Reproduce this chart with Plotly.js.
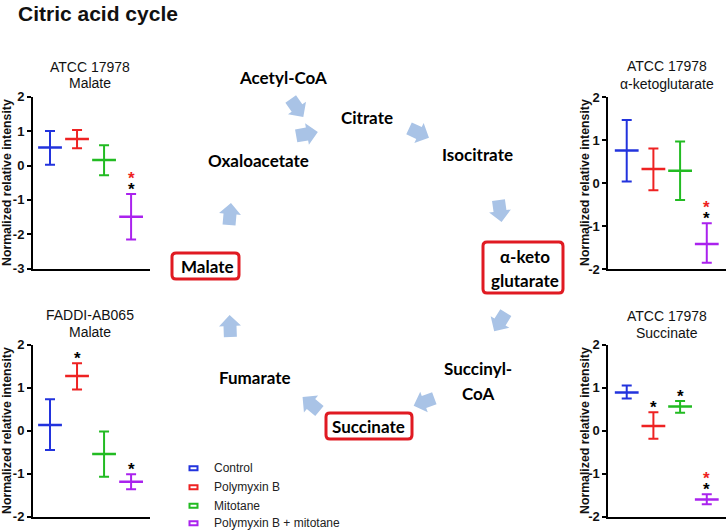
<!DOCTYPE html>
<html>
<head>
<meta charset="utf-8">
<script src="https://cdn.plot.ly/plotly-3.0.1.min.js"></script>
<style>html,body{margin:0;padding:0;background:#fff;}#chart{width:728px;height:532px;}</style>
</head>
<body>
<div id="chart"></div>
<script>
// ---------------- DATA ----------------
const treatments = ['Control', 'Polymyxin B', 'Mitotane', 'Polymyxin B + mitotane'];
const treatmentColors = ['#2233dd', '#ee2222', '#22bb22', '#aa22ee'];

// ATCC 17978 - Malate (mean, range)
const atccMalateMean = [0.52, 0.77, 0.16, -1.49];
const atccMalateHi   = [1.00, 1.03, 0.59, -0.83];
const atccMalateLo   = [0.02, 0.50, -0.28, -2.15];
// FADDI-AB065 - Malate
const faddiMalateMean = [0.13, 1.27, -0.54, -1.19];
const faddiMalateHi   = [0.73, 1.57, -0.02, -1.01];
const faddiMalateLo   = [-0.45, 0.96, -1.07, -1.36];
// ATCC 17978 - alpha-ketoglutarate
const atccAkgMean = [0.76, 0.33, 0.29, -1.41];
const atccAkgHi   = [1.47, 0.81, 0.97, -0.93];
const atccAkgLo   = [0.04, -0.16, -0.39, -1.85];
// ATCC 17978 - Succinate
const atccSuccMean = [0.89, 0.11, 0.56, -1.60];
const atccSuccHi   = [1.05, 0.43, 0.69, -1.48];
const atccSuccLo   = [0.75, -0.19, 0.42, -1.71];

// significance markers (black * and red *)
const atccMalateSigBlack = [0, 0, 0, 1];
const atccMalateSigRed   = [0, 0, 0, 1];
const faddiMalateSigBlack = [0, 1, 0, 1];
const faddiMalateSigRed   = [0, 0, 0, 0];
const atccAkgSigBlack = [0, 0, 0, 1];
const atccAkgSigRed   = [0, 0, 0, 1];
const atccSuccSigBlack = [0, 1, 1, 1];
const atccSuccSigRed   = [0, 0, 0, 1];

const yTickValsTL = [-3, -2, -1, 0, 1, 2];
const yTickVals = [-2, -1, 0, 1, 2];

// ---------------- LAYOUT HELPERS ----------------
const W = 728, H = 532;
const PX = p => p / W;
const PY = p => 1 - p / H;
const FONT = 'Liberation Sans, Arial, sans-serif';
const DIAG_FONT = 'Lato, Carlito, Calibri, sans-serif';

const panels = [
  {mean: atccMalateMean, hi: atccMalateHi, lo: atccMalateLo, sb: atccMalateSigBlack, sr: atccMalateSigRed,
   t1: 'ATCC 17978', t2: 'Malate', xd: [33, 150], yd: [96.7, 268.7], yr: [-3, 2], ticks: yTickValsTL, xr: [-0.63, 3.70], cx: 90, ty: [67, 83], yt: [7, 183]},
  {mean: faddiMalateMean, hi: faddiMalateHi, lo: faddiMalateLo, sb: faddiMalateSigBlack, sr: faddiMalateSigRed,
   t1: 'FADDI-AB065', t2: 'Malate', xd: [33, 150], yd: [344.7, 516.7], yr: [-2, 2], ticks: yTickVals, xr: [-0.63, 3.70], cx: 90, ty: [315, 332], yt: [7, 431]},
  {mean: atccAkgMean, hi: atccAkgHi, lo: atccAkgLo, sb: atccAkgSigBlack, sr: atccAkgSigRed,
   t1: 'ATCC 17978', t2: 'α-ketoglutarate', xd: [608.3, 726], yd: [97.3, 269.3], yr: [-2, 2], ticks: yTickVals, xr: [-0.69, 3.72], cx: 667, ty: [66, 84], yt: [585, 183]},
  {mean: atccSuccMean, hi: atccSuccHi, lo: atccSuccLo, sb: atccSuccSigBlack, sr: atccSuccSigRed,
   t1: 'ATCC 17978', t2: 'Succinate', xd: [608.3, 726], yd: [344.7, 516.7], yr: [-2, 2], ticks: yTickVals, xr: [-0.69, 3.72], cx: 667, ty: [316, 333], yt: [585, 431]}
];

const traces = [];
const layout = {
  width: W, height: H,
  margin: {l: 0, r: 0, t: 0, b: 0},
  paper_bgcolor: '#ffffff', plot_bgcolor: 'rgba(0,0,0,0)',
  font: {family: FONT, color: '#111'},
  showlegend: false,
  annotations: [], shapes: []
};

panels.forEach((p, i) => {
  const n = i + 1;
  const xa = 'x' + (n === 1 ? '' : n), ya = 'y' + (n === 1 ? '' : n);
  const xk = 'xaxis' + (n === 1 ? '' : n), yk = 'yaxis' + (n === 1 ? '' : n);
  layout[xk] = {domain: [PX(p.xd[0]), PX(p.xd[1])], anchor: ya, type: 'category', range: p.xr,
    showline: true, linewidth: 2, linecolor: '#000', showticklabels: false, ticks: '', showgrid: false, zeroline: false, fixedrange: true};
  layout[yk] = {domain: [PY(p.yd[1]), PY(p.yd[0])], anchor: xa, range: p.yr,
    showline: true, linewidth: 2, linecolor: '#000', ticks: 'outside', ticklen: 4, tickwidth: 2, tickcolor: '#000',
    tickvals: p.ticks, ticktext: p.ticks.map(v => String(v)),
    tickfont: {family: FONT, size: 13, weight: 'bold', color: '#111'}, showgrid: false, zeroline: false, fixedrange: true};

  treatments.forEach((t, k) => {
    traces.push({
      type: 'scatter', mode: 'markers', xaxis: xa, yaxis: ya,
      x: [t], y: [p.mean[k]], name: t, legendgroup: t, showlegend: false,
      marker: {symbol: 'line-ew', size: 17, color: treatmentColors[k], line: {color: treatmentColors[k], width: 2.5}},
      error_y: {type: 'data', symmetric: false, array: [p.hi[k] - p.mean[k]], arrayminus: [p.mean[k] - p.lo[k]],
                color: treatmentColors[k], thickness: 2, width: 5},
      hoverinfo: 'skip'
    });
    if (p.sb[k]) layout.annotations.push({xref: xa, yref: ya, x: t, y: p.hi[k], yshift: 5, text: '*', showarrow: false,
      xanchor: 'center', yanchor: 'middle', font: {family: FONT, size: 17, weight: 'bold', color: '#000'}});
    if (p.sr[k]) layout.annotations.push({xref: xa, yref: ya, x: t, y: p.hi[k], yshift: 16, text: '*', showarrow: false,
      xanchor: 'center', yanchor: 'middle', font: {family: FONT, size: 17, weight: 'bold', color: '#ee2222'}});
  });

  layout.annotations.push({xref: 'paper', yref: 'paper', x: PX(p.cx), y: PY(p.ty[0]), text: p.t1, showarrow: false,
    xanchor: 'center', yanchor: 'middle', font: {family: FONT, size: 14, color: '#111'}});
  layout.annotations.push({xref: 'paper', yref: 'paper', x: PX(p.cx), y: PY(p.ty[1]), text: p.t2, showarrow: false,
    xanchor: 'center', yanchor: 'middle', font: {family: FONT, size: 14, color: '#111'}});
  layout.annotations.push({xref: 'paper', yref: 'paper', x: PX(p.yt[0]), y: PY(p.yt[1]), text: 'Normalized relative intensity',
    textangle: -90, showarrow: false, xanchor: 'center', yanchor: 'middle', font: {family: FONT, size: 12.3, weight: 'bold', color: '#111'}});
});

// main title
layout.annotations.push({xref: 'paper', yref: 'paper', x: PX(16), y: 1, text: 'Citric acid cycle', showarrow: false,
  xanchor: 'left', yanchor: 'top', font: {family: FONT, size: 21, weight: 'bold', color: '#111'}});

// custom legend (symbol + label)
const legendRows = [468.3, 487.3, 505.7, 523.3];
treatments.forEach((t, k) => {
  layout.shapes.push({type: 'rect', xref: 'paper', yref: 'paper', x0: PX(189.5), x1: PX(197.5),
    y0: PY(legendRows[k] + 2), y1: PY(legendRows[k] - 2), line: {color: treatmentColors[k], width: 2}, fillcolor: 'rgba(0,0,0,0)'});
  layout.annotations.push({xref: 'paper', yref: 'paper', x: PX(212), y: PY(legendRows[k]), text: t, showarrow: false,
    xanchor: 'left', yanchor: 'middle', font: {family: FONT, size: 12, color: '#222'}});
});

// ---------------- CYCLE DIAGRAM ----------------
const cycleLabels = [
  ['Acetyl-CoA', 283, 78], ['Citrate', 367, 117], ['Isocitrate', 477, 154], ['Oxaloacetate', 258, 160],
  ['Malate', 207, 266], ['α-keto', 525, 257], ['glutarate', 525, 280], ['Succinyl-', 478, 368], ['CoA', 478, 393],
  ['Fumarate', 255, 377], ['Succinate', 368, 426]
];
cycleLabels.forEach(([t, x, y]) => layout.annotations.push({xref: 'paper', yref: 'paper', x: PX(x), y: PY(y), text: t,
  showarrow: false, xanchor: 'center', yanchor: 'middle', font: {family: DIAG_FONT, size: 17, weight: 'bold', color: '#000'}}));

function roundRect(x0, y0, x1, y1, r) {
  const f = (x, y) => PX(x).toFixed(5) + ',' + PY(y).toFixed(5);
  return 'M' + f(x0 + r, y0) + ' L' + f(x1 - r, y0) + ' Q' + f(x1, y0) + ' ' + f(x1, y0 + r) +
    ' L' + f(x1, y1 - r) + ' Q' + f(x1, y1) + ' ' + f(x1 - r, y1) + ' L' + f(x0 + r, y1) +
    ' Q' + f(x0, y1) + ' ' + f(x0, y1 - r) + ' L' + f(x0, y0 + r) + ' Q' + f(x0, y0) + ' ' + f(x0 + r, y0) + ' Z';
}
[[172, 253, 239, 279], [483, 242, 563, 293], [326, 413, 412, 439]].forEach(b => layout.shapes.push({
  type: 'path', xref: 'paper', yref: 'paper', path: roundRect(b[0], b[1], b[2], b[3], 4),
  line: {color: '#e01a22', width: 3}, fillcolor: 'rgba(255,255,255,0)', layer: 'above'}));

const arrowPts = [[11, 0], [0, -11], [0, -6.5], [-11, -6.5], [-11, 6.5], [0, 6.5], [0, 11]];
function arrowPath(cx, cy, deg) {
  const a = deg * Math.PI / 180, c = Math.cos(a), s = Math.sin(a);
  return arrowPts.map((p, i) => {
    const x = cx + p[0] * c - p[1] * s, y = cy + p[0] * s + p[1] * c;
    return (i ? 'L' : 'M') + PX(x).toFixed(5) + ',' + PY(y).toFixed(5);
  }).join(' ') + ' Z';
}
[[297, 108, 55], [307, 134, -10], [419, 133, 25], [500, 211, 82], [500, 322, 122], [424, 402, 160],
 [311, 404, -140], [230, 326, -92], [230, 214, -85]].forEach(a => layout.shapes.push({
  type: 'path', xref: 'paper', yref: 'paper', path: arrowPath(a[0], a[1], a[2]),
  line: {width: 0}, fillcolor: '#a9c3e6', layer: 'below'}));

Plotly.newPlot('chart', traces, layout, {staticPlot: true, displayModeBar: false});
</script>
</body>
</html>
